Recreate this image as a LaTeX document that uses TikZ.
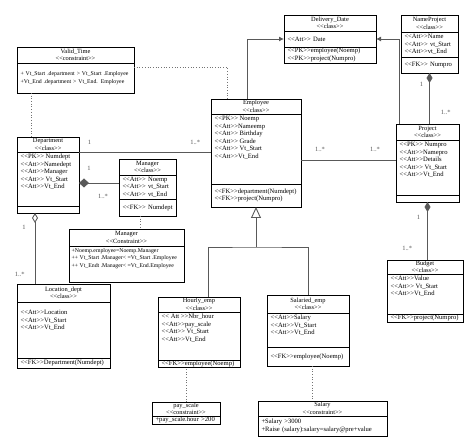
\documentclass[tikz,border=0pt]{standalone}
\usepackage{fontspec}
\setmainfont{Liberation Serif}[Ligatures=TeXOff]
\usetikzlibrary{arrows.meta,positioning}

\begin{document}
\begin{tikzpicture}[
  x=1pt, y=-1pt,
  font=\fontsize{6.6}{7.5}\selectfont,
  hd/.style={draw, line width=0.7pt, anchor=north west, inner xsep=3.5pt,
    inner ysep=0pt, outer sep=0pt, text width=#1, align=center,
    font=\fontsize{6.4}{7.4}\selectfont},
  cmp/.style={draw, line width=0.7pt, inner xsep=3.5pt, inner ysep=0pt,
    outer sep=0pt, text width=#1, align=left},
  txt/.style={anchor=north west, inner xsep=3.5pt, inner ysep=2pt, align=left},
  small/.style={font=\fontsize{5.8}{7.5}\selectfont},
  con/.style={line width=0.9pt, black!65},
  dotcon/.style={dotted, line width=0.7pt, black!55},
  mult/.style={inner sep=1pt, font=\fontsize{6.5}{7}\selectfont},
  node distance=0pt]
\useasboundingbox (0,0) rectangle (474,443);
\node[hd=110, minimum height=16] (vt) at (17,47) {Valid\_Time\\<<constraint>>};
\node[cmp=110, small, minimum height=30, below=of vt] (vtB)
  {+ Vt\_Start .department > Vt\_Start .Employee\\+Vt\_End .department > Vt\_End. Employee};
\node[hd=85, minimum height=16] (dd) at (284,15) {Delivery\_Date\\<<class>>};
\node[cmp=85, minimum height=16, below=of dd] (ddA) {<<Att>> Date};
\node[cmp=85, minimum height=16, below=of ddA] (ddO) {<<PK>>employee(Noemp)\\<<PK>>project(Numpro)};
\node[hd=50, minimum height=17] (np) at (401,15) {NameProject\\<<class>>};
\node[cmp=50, minimum height=25, below=of np] (npA) {<<Att>>Name\\<<Att>> vt\_Start\\<<Att>>vt\_End};
\node[cmp=50, minimum height=16, below=of npA] (npO) {<<FK>> Numpro};
\node[hd=83, minimum height=15] (emp) at (211,99) {Employee\\<<class>>};
\node[cmp=83, minimum height=70, below=of emp] (empA) {};
\node[cmp=83, minimum height=23, below=of empA] (empO) {<<FK>>department(Numdept)\\<<FK>>project(Numpro)};
\node[txt] (empAt) at (empA.north west)
  {<<PK>> Noemp\\<<Att>>Nameemp\\<<Att>> Birthday\\<<Att>> Grade\\<<Att>> Vt\_Start\\<<Att>>Vt\_End};
\node[hd=56, minimum height=16] (prj) at (396,124) {Project\\<<class>>};
\node[cmp=56, minimum height=55, below=of prj] (prjA) {};
\node[cmp=56, minimum height=7, below=of prjA] (prjO) {};
\node[txt] (prjAt) at (prjA.north west)
  {<<PK>> Numpro\\<<Att>>Namepro\\<<Att>>Details\\<<Att>> Vt\_Start\\<<Att>>Vt\_End};
\node[hd=69, minimum height=14] (bud) at (387,260) {Budget\\<<class>>};
\node[cmp=69, minimum height=40, below=of bud] (budA) {};
\node[cmp=69, minimum height=8, below=of budA] (budO) {<<FK>>project(Numpro)};
\node[txt] (budAt) at (budA.north west) {<<Att>>Value\\<<Att>> Vt\_Start\\<<Att>>Vt\_End};
\node[hd=55, minimum height=15] (dep) at (17,137) {Department\\<<class>>};
\node[cmp=55, minimum height=54, below=of dep] (depA) {};
\node[cmp=55, minimum height=7, below=of depA] (depO) {};
\node[txt] (depAt) at (depA.north west)
  {<<PK>> Numdept\\<<Att>>Namedept\\<<Att>>Manager\\<<Att>> Vt\_Start\\<<Att>>Vt\_End};
\node[hd=50, minimum height=16] (mgr) at (119,159) {Manager\\<<class>>};
\node[cmp=50, minimum height=24, below=of mgr] (mgrA) {<<Att>> Noemp\\<<Att>> vt\_Start\\<<Att>> vt\_End};
\node[cmp=50, minimum height=17, below=of mgrA] (mgrO) {\mbox{<<FK>> Numdept}};
\node[hd=108, minimum height=17] (mgc) at (69,229) {Manager\\<<Constraint>>};
\node[cmp=108, minimum height=36, below=of mgc] (mgcB) {};
\node[txt, small, inner xsep=2.5pt] (mgcBt) at (mgcB.north west)
  {+Noemp.employee=Noemp.Manager\\++ Vt\_Start .Manager< =Vt\_Start .Employee\\++ Vt\_Endt .Manager< =Vt\_End.Employee};
\node[hd=86, minimum height=18] (loc) at (17,284) {Location\_dept\\<<class>>};
\node[cmp=86, minimum height=56, below=of loc] (locA) {};
\node[cmp=86, minimum height=10, below=of locA] (locO) {<<FK>>Department(Numdept)};
\node[txt] (locAt) at ([yshift=-6pt]locA.north west) {<<Att>>Location\\<<Att>>Vt\_Start\\<<Att>>Vt\_End};
\node[hd=75, minimum height=15] (hrl) at (158,297) {Hourly\_emp\\<<class>>};
\node[cmp=75, minimum height=48, below=of hrl] (hrlA) {};
\node[cmp=75, minimum height=7, below=of hrlA] (hrlO) {<<FK>>employee(Noemp)};
\node[txt] (hrlAt) at (hrlA.north west) {<< Att >>Nbr\_hour\\<<Att>>pay\_scale\\<<Att>> Vt\_Start\\<<Att>>Vt\_End};
\node[hd=75, minimum height=18] (sal) at (267,295) {Salaried\_emp\\<<class>>};
\node[cmp=75, minimum height=34, below=of sal] (salA) {};
\node[cmp=75, minimum height=19, below=of salA] (salO) {<<FK>>employee(Noemp)};
\node[txt] (salAt) at (salA.north west) {<<Att>>Salary\\<<Att>>Vt\_Start\\<<Att>>Vt\_End};
\node[hd=61, minimum height=14] (pys) at (152,402) {pay\_scale\\<<constraint>>};
\node[cmp=61, minimum height=8, below=of pys] (pysB) {+pay\_scale.hour >200};
\node[hd=122, minimum height=15] (slc) at (258,401) {Salary\\<<constraint>>};
\node[cmp=122, minimum height=20, below=of slc] (slcB) {+Salary >3000\\+Raise (salary):salary=salary@pre+value};
\draw[dotcon] ([yshift=-4pt]vtB.north east) -| ([xshift=16pt]emp.north west);
\draw[dotcon] ([xshift=14pt]vtB.south west) -- ([xshift=14pt]dep.north west);
\draw[dotcon] ([xshift=21pt]mgrO.south west) -- ([xshift=21pt]mgrO.south west |- mgc.north);
\draw[dotcon] (pys.north) -- (pys.north |- hrlO.south);
\draw[dotcon] ([xshift=45pt]salO.south west) -- ([xshift=45pt]salO.south west |- slc.north);
\draw[con, -{Latex[length=5pt, width=5pt]}] ([xshift=36pt]emp.north west) |- (ddA.west);
\draw[con, -{Latex[length=5pt, width=5pt]}] ([xshift=3pt]prj.north west) |- (ddA.east);
\draw[con, {Diamond[length=10pt, width=6pt]}-] (npO.south) -- (npO.south |- prj.north)
  node[mult, pos=.22, left=5pt] (m1) {1} node[mult, pos=.78, right=10pt] (m2) {1..*};
\draw[con, {Diamond[length=10pt, width=6pt]}-] (prjO.south) -- (prjO.south |- bud.north)
  node[mult, pos=.26, left=6pt] (m3) {1} node[mult, pos=.8, left=14pt] (m4) {1..*};
\draw[con] (depA.north east) -- (depA.north east -| emp.west)
  node[mult, pos=.08, above=6pt] (m5) {1} node[mult, pos=.88, above=6pt] (m6) {1..*};
\draw[con] ([yshift=-11pt]empA.east) -- ([yshift=-11pt]empA.east -| prj.west)
  node[mult, pos=.2, above=7pt] (m7) {1..*} node[mult, pos=.78, above=7pt] (m8) {1..*};
\draw[con, {Diamond[length=10pt, width=9pt]}-] ([yshift=-4pt]depA.east) -- ([yshift=-4pt]depA.east -| mgr.west)
  node[mult, pos=.25, above=11pt] (m9) {1} node[mult, pos=.6, below=10pt] (m10) {1..*};
\draw[con, {Diamond[open, length=10pt, width=6pt]}-] ([xshift=18pt]depO.south west) -- ([xshift=18pt]depO.south west |- loc.north)
  node[mult, pos=.2, left=8pt] (m11) {1} node[mult, pos=.86, left=9pt] (m12) {1..*};
\coordinate (split) at ([yshift=-40pt]empO.south);
\draw[con] ([xshift=50pt]hrl.north west) |- (split) -| (sal.north);
\draw[con, -{Triangle[open, length=11pt, width=10pt]}] (split) -- (empO.south);
\end{tikzpicture}
\end{document}
